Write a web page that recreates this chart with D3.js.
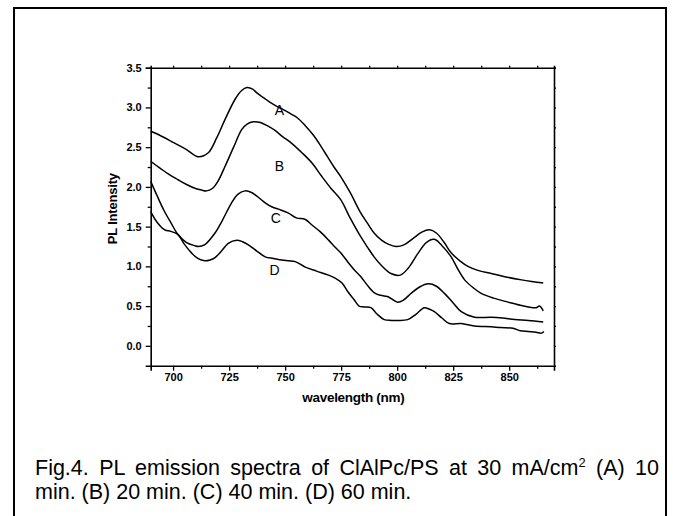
<!DOCTYPE html>
<html>
<head>
<meta charset="utf-8">
<script src="https://cdn.jsdelivr.net/npm/d3@7"></script>
<style>
  html, body { margin: 0; padding: 0; background: #fff; }
  svg { display: block; }
  text { font-family: "Liberation Sans", Arial, sans-serif; fill: #000; }
</style>
</head>
<body>
<svg id="chart" width="673" height="516"></svg>
<script>
// ---------------- DATA ----------------
const xTicks = [700, 725, 750, 775, 800, 825, 850];
const yTicks = [0.0, 0.5, 1.0, 1.5, 2.0, 2.5, 3.0, 3.5];
const seriesNames = ["A", "B", "C", "D"];

const wlA = [690, 693.4, 700.7, 706, 711.2, 715.7, 719.5, 723.2, 727.6, 730.5, 733, 735.5, 737.5, 740.5, 743.5, 746.5, 749.4, 752.5, 755.4, 759, 762.9, 766, 768.9, 771.8, 774.8, 779, 783.8, 786.8, 789.7, 793, 796, 799.5, 803, 807, 811, 814.4, 817.5, 821, 824.1, 828, 831.6, 836, 842, 848, 855.5, 860, 865.2];
const intA = [2.70, 2.66, 2.55, 2.47, 2.38, 2.43, 2.62, 2.85, 3.10, 3.21, 3.25, 3.23, 3.18, 3.12, 3.06, 3.01, 2.97, 2.92, 2.87, 2.77, 2.64, 2.51, 2.38, 2.25, 2.13, 1.93, 1.67, 1.54, 1.42, 1.33, 1.28, 1.25, 1.27, 1.35, 1.43, 1.46, 1.42, 1.30, 1.17, 1.07, 1.00, 0.95, 0.91, 0.87, 0.83, 0.81, 0.79];

const wlB = [690, 694, 698, 702.2, 706, 710, 712.7, 714.9, 717.5, 720, 723.2, 727, 730.6, 733, 735.8, 739, 742, 745.5, 749, 752, 757.5, 762, 766.4, 770.5, 774.8, 779, 783.8, 786.8, 789.7, 793, 797.2, 801.4, 805, 809.2, 813, 816.6, 820, 824.1, 827, 830.1, 834, 837.5, 843, 849.5, 855, 858.5, 862, 863.5, 865.2];
const intB = [2.32, 2.24, 2.16, 2.09, 2.03, 1.98, 1.96, 1.95, 1.98, 2.07, 2.26, 2.50, 2.72, 2.79, 2.82, 2.81, 2.77, 2.71, 2.63, 2.57, 2.43, 2.30, 2.13, 1.98, 1.84, 1.61, 1.37, 1.24, 1.12, 1.01, 0.91, 0.89, 0.98, 1.16, 1.30, 1.34, 1.26, 1.12, 0.97, 0.83, 0.73, 0.66, 0.60, 0.55, 0.51, 0.49, 0.48, 0.50, 0.44];

const wlC = [690, 693, 696, 699, 702.2, 706, 709.7, 711.2, 714, 718.7, 722, 726.1, 729, 732.1, 735, 738, 741.1, 744, 747, 751.5, 755, 759, 762, 765.5, 769.4, 772, 774.8, 778.4, 781, 783.8, 786.5, 789.7, 792, 795.7, 800.2, 803, 806.2, 810, 813.9, 817.5, 821.1, 825, 828.6, 834.5, 842, 847, 852.5, 858.5, 865.2];
const intC = [2.07, 1.88, 1.70, 1.55, 1.40, 1.30, 1.26, 1.25, 1.27, 1.42, 1.58, 1.80, 1.91, 1.95, 1.93, 1.87, 1.80, 1.75, 1.72, 1.67, 1.61, 1.59, 1.52, 1.44, 1.33, 1.25, 1.17, 1.04, 0.95, 0.87, 0.77, 0.67, 0.64, 0.62, 0.55, 0.58, 0.66, 0.74, 0.78, 0.75, 0.66, 0.54, 0.43, 0.36, 0.36, 0.35, 0.33, 0.32, 0.30];

const wlD = [690, 693, 696.3, 699, 702.2, 705, 708.2, 711, 714.2, 716.5, 718.7, 721.5, 724.6, 728.4, 731, 733.6, 737.5, 741.1, 744.8, 748.5, 751.5, 754.5, 759, 764, 769.4, 772.5, 775.4, 778, 780.8, 783, 785.3, 788.3, 791, 794.2, 797.5, 800.2, 804.7, 808.5, 812.1, 814.5, 816.6, 820, 823.3, 828.6, 834.5, 842, 846, 851.7, 855, 858.5, 862, 864.4, 865.5];
const intD = [1.69, 1.55, 1.46, 1.44, 1.40, 1.28, 1.17, 1.10, 1.07, 1.08, 1.11, 1.19, 1.29, 1.33, 1.31, 1.27, 1.19, 1.12, 1.10, 1.08, 1.07, 1.06, 0.99, 0.94, 0.89, 0.85, 0.79, 0.68, 0.58, 0.50, 0.49, 0.48, 0.40, 0.33, 0.32, 0.32, 0.33, 0.40, 0.48, 0.46, 0.43, 0.35, 0.28, 0.28, 0.25, 0.24, 0.23, 0.22, 0.19, 0.18, 0.17, 0.16, 0.18];

// label anchor positions (data coords)
const labelWl = [747.5, 747.5, 745.8, 745.3];
const labelInt = [2.97, 2.26, 1.61, 0.95];

const xTitle = "wavelength (nm)";
const yTitle = "PL Intensity";
const captionLine1 = ["Fig.4. PL emission spectra of ClAlPc/PS at 30 mA/cm", "2", " (A) 10"];
const captionLine2 = "min. (B) 20 min. (C) 40 min. (D) 60 min.";

// ---------------- LAYOUT ----------------
const svg = d3.select("#chart");
const W = 673, H = 516;
const pLeft = 150.7, pRight = 554, pTop = 67.7, pBottom = 365.7;

svg.append("rect").attr("width", W).attr("height", H).attr("fill", "#fff");
// outer frame
svg.append("rect").attr("x", 14).attr("y", 8).attr("width", 652).attr("height", 540)
  .attr("fill", "none").attr("stroke", "#000").attr("stroke-width", 2);

const x = d3.scaleLinear().domain([690, 870]).range([pLeft, pRight]);
const y = d3.scaleLinear().domain([-0.25, 3.5]).range([pBottom, pTop]);

const tickFont = 11;
// bottom axis
const xMinor = d3.range(687.5, 870, 12.5).filter(v => v > 690 && xTicks.indexOf(v) < 0);
const gx = svg.append("g").attr("transform", `translate(0,${pBottom})`)
  .call(d3.axisBottom(x).tickValues(xTicks).tickSize(5).tickPadding(3).tickFormat(d3.format("d")));
gx.selectAll("text").attr("font-size", tickFont).attr("font-weight", "bold")
  .attr("font-family", "Liberation Sans, Arial, sans-serif");
gx.append("g").call(d3.axisBottom(x).tickValues(xMinor).tickSize(3).tickFormat(""))
  .select(".domain").remove();

// left axis
const yMinor = d3.range(0.25, 3.5, 0.5);
const gy = svg.append("g").attr("transform", `translate(${pLeft},0)`)
  .call(d3.axisLeft(y).tickValues(yTicks).tickSize(5).tickPadding(4).tickFormat(d3.format(".1f")));
gy.selectAll("text").attr("font-size", tickFont).attr("font-weight", "bold")
  .attr("font-family", "Liberation Sans, Arial, sans-serif");
gy.append("g").call(d3.axisLeft(y).tickValues(yMinor).tickSize(3).tickFormat(""))
  .select(".domain").remove();

// top & right axes (no labels)
svg.append("g").attr("transform", `translate(0,${pTop})`)
  .call(d3.axisTop(x).tickValues(xTicks.concat(xMinor)).tickSize(2).tickFormat(""));
svg.append("g").attr("transform", `translate(${pRight},0)`)
  .call(d3.axisRight(y).tickValues(yTicks.concat(yMinor)).tickSize(2).tickFormat(""));

svg.selectAll(".domain").attr("stroke", "#000").attr("stroke-width", 1.6);
svg.selectAll(".tick line").attr("stroke", "#000").attr("stroke-width", 1.3);

// series
const wls = [wlA, wlB, wlC, wlD];
const ints = [intA, intB, intC, intD];
const line = d3.line().x(d => x(d[0])).y(d => y(d[1])).curve(d3.curveCatmullRom.alpha(0.5));
seriesNames.forEach((name, i) => {
  const pts = wls[i].map((w, j) => [w, ints[i][j]]);
  svg.append("path").datum(pts).attr("d", line)
    .attr("fill", "none").attr("stroke", "#000").attr("stroke-width", 1.5);
  svg.append("text").attr("x", x(labelWl[i])).attr("y", y(labelInt[i]))
    .attr("text-anchor", "middle").attr("dominant-baseline", "central")
    .attr("font-size", 14).text(name);
});

// axis titles
svg.append("text").attr("x", (pLeft + pRight) / 2 + 1).attr("y", 402)
  .attr("text-anchor", "middle").attr("font-size", 13.5).attr("font-weight", "bold")
  .attr("letter-spacing", -0.3)
  .text(xTitle);
svg.append("text").attr("transform", `translate(117,${(pTop + pBottom) / 2 - 8}) rotate(-90)`)
  .attr("text-anchor", "middle").attr("font-size", 13).attr("font-weight", "bold")
  .attr("letter-spacing", -0.2)
  .text(yTitle);

// caption
const capFont = 21.5;
const capX = 35, capRight = 659;
const c1 = svg.append("text").attr("x", capX).attr("y", 474.5).attr("font-size", capFont);
c1.append("tspan").text(captionLine1[0]);
c1.append("tspan").attr("dy", -8).attr("font-size", capFont * 0.6).text(captionLine1[1]);
c1.append("tspan").attr("dy", 8).text(captionLine1[2]);
const natural = c1.node().getComputedTextLength();
const nSpaces = (captionLine1.join("").match(/ /g) || []).length;
c1.attr("word-spacing", (capRight - capX - natural) / nSpaces);
svg.append("text").attr("x", capX).attr("y", 498.5).attr("font-size", capFont).text(captionLine2);
</script>
</body>
</html>
